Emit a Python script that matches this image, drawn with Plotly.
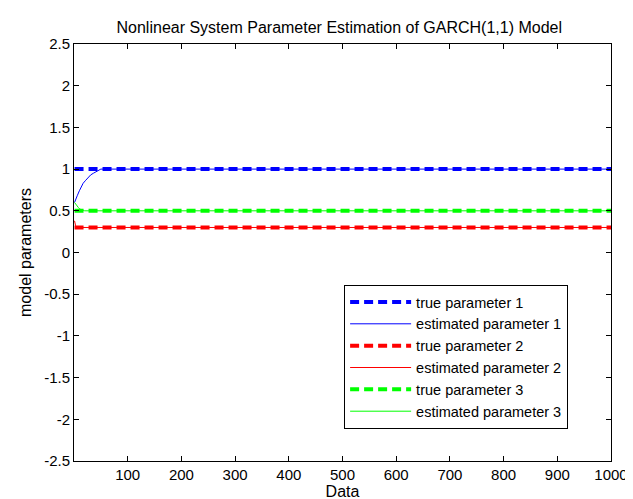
import plotly.graph_objects as go

# Data
true_x = [1, 1000]
true1 = [1.0, 1.0]
true2 = [0.3, 0.3]
true3 = [0.5, 0.5]

est1_x = [1, 3, 6, 10, 14, 17, 21, 26, 31, 36, 41, 45, 50, 60, 100, 200, 300, 400, 500, 600, 700, 800, 900, 1000]
est1_y = [0.60, 0.64, 0.68, 0.74, 0.79, 0.83, 0.86, 0.90, 0.93, 0.95, 0.97, 0.99, 1.0, 1.0, 1.0, 1.0, 1.0, 1.0, 1.0, 1.0, 1.0, 1.0, 1.0, 1.0]

est2_x = [1, 2, 3, 5, 8, 12, 20, 50, 100, 300, 500, 700, 1000]
est2_y = [0.38, 0.35, 0.32, 0.31, 0.30, 0.30, 0.30, 0.30, 0.30, 0.30, 0.30, 0.30, 0.30]

est3_x = [1, 3, 5, 8, 11, 15, 20, 30, 50, 100, 300, 500, 700, 1000]
est3_y = [0.60, 0.58, 0.56, 0.54, 0.52, 0.51, 0.50, 0.50, 0.50, 0.50, 0.50, 0.50, 0.50, 0.50]

x_ticks = [100, 200, 300, 400, 500, 600, 700, 800, 900, 1000]
y_ticks = [-2.5, -2, -1.5, -1, -0.5, 0, 0.5, 1, 1.5, 2, 2.5]

BLUE = "rgb(0,0,255)"
RED = "rgb(255,0,0)"
GREEN = "rgb(0,255,0)"
DASH = "9px,5px"

fig = go.Figure()
fig.add_trace(go.Scatter(x=true_x, y=true1, mode="lines", name="true parameter 1",
                         line=dict(color=BLUE, width=4, dash=DASH)))
fig.add_trace(go.Scatter(x=est1_x, y=est1_y, mode="lines", name="estimated parameter 1",
                         line=dict(color=BLUE, width=1)))
fig.add_trace(go.Scatter(x=true_x, y=true2, mode="lines", name="true parameter 2",
                         line=dict(color=RED, width=4, dash=DASH)))
fig.add_trace(go.Scatter(x=est2_x, y=est2_y, mode="lines", name="estimated parameter 2",
                         line=dict(color=RED, width=1)))
fig.add_trace(go.Scatter(x=true_x, y=true3, mode="lines", name="true parameter 3",
                         line=dict(color=GREEN, width=4, dash=DASH)))
fig.add_trace(go.Scatter(x=est3_x, y=est3_y, mode="lines", name="estimated parameter 3",
                         line=dict(color=GREEN, width=1)))

axis_common = dict(
    showline=True, linecolor="black", linewidth=1, mirror="ticks",
    ticks="inside", ticklen=5, tickcolor="black", tickwidth=1,
    showgrid=False, zeroline=False,
    tickfont=dict(size=15, color="black"),
)

fig.update_layout(
    width=633, height=499,
    margin=dict(l=66, r=30, t=36, b=41),
    paper_bgcolor="white", plot_bgcolor="white",
    font=dict(family="Liberation Sans, Arial, sans-serif", size=15, color="black"),
    title=dict(text="Nonlinear System Parameter Estimation of GARCH(1,1) Model",
               x=0.494, xref="paper", xanchor="center", y=1 - 19 / 499, yanchor="middle",
               font=dict(size=16, color="black")),
    xaxis=dict(range=[0, 1000], tickvals=x_ticks, ticktext=[str(v) for v in x_ticks],
               title=dict(text="Data", standoff=1, font=dict(size=16)), **axis_common),
    yaxis=dict(range=[-2.5, 2.5], tickvals=y_ticks, ticktext=[f"{v:g}" for v in y_ticks],
               title=dict(text="model parameters", standoff=8, font=dict(size=16)), **axis_common),
    legend=dict(x=0.503, y=0.422, xanchor="left", yanchor="top",
                bgcolor="white", bordercolor="black", borderwidth=1,
                itemwidth=61,
                font=dict(size=14.5, color="black"), tracegroupgap=0),
    showlegend=True,
)

fig.write_html("out.html")
